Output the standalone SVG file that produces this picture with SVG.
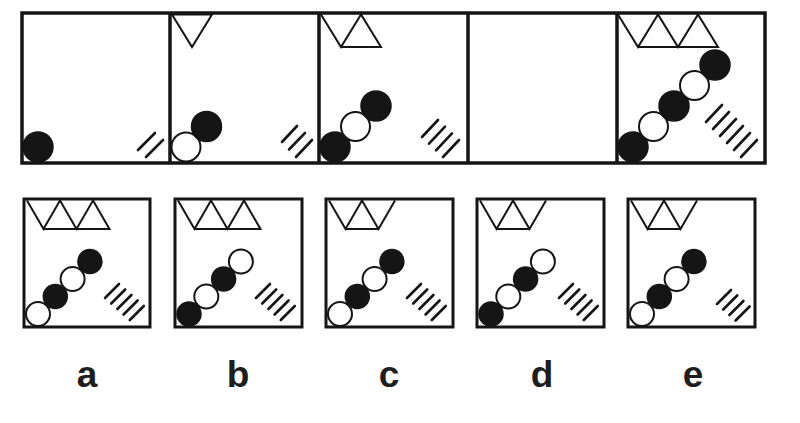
<svg xmlns="http://www.w3.org/2000/svg" width="800" height="423" viewBox="0 0 800 423">
<style>
.frame{fill:none;stroke:#151515;stroke-width:3.5}
.box{fill:none;stroke:#151515;stroke-width:3}
.tri{fill:none;stroke:#151515;stroke-width:2;stroke-linejoin:miter}
.blk{fill:#151515;stroke:#151515;stroke-width:1.5}
.wht{fill:#fff;stroke:#151515;stroke-width:2}
.hash{stroke:#151515;stroke-width:2.6;stroke-linecap:round;fill:none}
.lbl{font-family:"Liberation Sans",Arial,sans-serif;font-weight:bold;font-size:37px;fill:#1e1e1e;text-anchor:middle}
</style>
<rect width="800" height="423" fill="#fff"/>

<g id="top-row">
  <g id="p1">
    <circle class="blk" cx="38" cy="147" r="15"/>
    <path class="hash" d="M138,150 L155,133 M146,157 L163,140"/>
  </g>
  <g id="p2">
    <polygon class="tri" points="172,14.5 212,14.5 192,47"/>
    <circle class="wht" cx="186" cy="147" r="14.5"/>
    <circle class="blk" cx="206.5" cy="126.5" r="15"/>
    <path class="hash" d="M282,142 L297,126 M289,149.5 L305,133 M296,157 L312,140"/>
  </g>
  <g id="p3">
    <polyline class="tri" points="321,14.5 341,47 361,14.5 381,47 341,47"/>
    <circle class="blk" cx="335" cy="147" r="15"/>
    <circle class="wht" cx="355.5" cy="126.5" r="14.5"/>
    <circle class="blk" cx="376" cy="106" r="15"/>
    <path class="hash" d="M422,137 L438,120 M429,143.7 L445,126.7 M436,150.4 L452,133.4 M443,157 L459,140"/>
  </g>
  <g id="p4"></g>
  <g id="p5">
    <polyline class="tri" points="618,14.5 638,47 658,14.5 678,47 698,14.5 718,47 638,47"/>
    <circle class="blk" cx="633" cy="147" r="15"/>
    <circle class="wht" cx="653.5" cy="126.5" r="14.5"/>
    <circle class="blk" cx="674" cy="106" r="15"/>
    <circle class="wht" cx="694.5" cy="85.5" r="14.5"/>
    <circle class="blk" cx="715" cy="65" r="15"/>
    <path class="hash" d="M706,122 L722,105 M713,129 L729,112 M720,136 L736,119 M727,143 L743,126 M734,150 L750,133 M741,157 L757,140"/>
  </g>
  <rect class="frame" x="22" y="13" width="743" height="150"/>
  <path class="frame" d="M170,13 V163 M319,13 V163 M468,13 V163 M617,13 V163"/>
</g>

<g id="opt-a">
  <polyline class="tri" points="27,200.5 43.5,229 60,200.5 76.5,229 93,200.5 109.5,229 43.5,229"/>
  <circle class="wht" cx="38" cy="314" r="12"/>
  <circle class="blk" cx="55.3" cy="296.5" r="12"/>
  <circle class="wht" cx="72.6" cy="279" r="12"/>
  <circle class="blk" cx="89.9" cy="261.5" r="12"/>
  <path class="hash" d="M105,298 l14,-14 M111.2,303.5 l14,-14 M117.4,309 l14,-14 M123.6,314.5 l14,-14 M129.8,320 l14,-14"/>
  <rect class="box" x="24" y="199" width="126" height="128"/>
  <text class="lbl" x="87" y="387">a</text>
</g>

<g id="opt-b">
  <polyline class="tri" points="178,200.5 194.5,229 211,200.5 227.5,229 244,200.5 260.5,229 194.5,229"/>
  <circle class="blk" cx="189" cy="314" r="12"/>
  <circle class="wht" cx="206.3" cy="296.5" r="12"/>
  <circle class="blk" cx="223.6" cy="279" r="12"/>
  <circle class="wht" cx="240.9" cy="261.5" r="12"/>
  <path class="hash" d="M256,298 l14,-14 M262.2,303.5 l14,-14 M268.4,309 l14,-14 M274.6,314.5 l14,-14 M280.8,320 l14,-14"/>
  <rect class="box" x="175" y="199" width="127" height="128"/>
  <text class="lbl" x="238" y="387">b</text>
</g>

<g id="opt-c">
  <polyline class="tri" points="329,200.5 345.5,229 362,200.5 378.5,229 395,200.5"/>
  <line class="tri" x1="345.5" y1="229" x2="378.5" y2="229"/>
  <circle class="wht" cx="340" cy="314" r="12"/>
  <circle class="blk" cx="357.3" cy="296.5" r="12"/>
  <circle class="wht" cx="374.6" cy="279" r="12"/>
  <circle class="blk" cx="391.9" cy="261.5" r="12"/>
  <path class="hash" d="M407,298 l14,-14 M413.2,303.5 l14,-14 M419.4,309 l14,-14 M425.6,314.5 l14,-14 M431.8,320 l14,-14"/>
  <rect class="box" x="326" y="199" width="127" height="128"/>
  <text class="lbl" x="389" y="387">c</text>
</g>

<g id="opt-d">
  <polyline class="tri" points="480,200.5 496.5,229 513,200.5 529.5,229 546,200.5"/>
  <line class="tri" x1="496.5" y1="229" x2="529.5" y2="229"/>
  <circle class="blk" cx="491" cy="314" r="12"/>
  <circle class="wht" cx="508.3" cy="296.5" r="12"/>
  <circle class="blk" cx="525.6" cy="279" r="12"/>
  <circle class="wht" cx="542.9" cy="261.5" r="12"/>
  <path class="hash" d="M559,298 l14,-14 M565.2,303.5 l14,-14 M571.4,309 l14,-14 M577.6,314.5 l14,-14 M583.8,320 l14,-14"/>
  <rect class="box" x="477" y="199" width="127" height="128"/>
  <text class="lbl" x="542" y="387">d</text>
</g>

<g id="opt-e">
  <polyline class="tri" points="631,200.5 647.5,229 664,200.5 680.5,229 697,200.5"/>
  <line class="tri" x1="647.5" y1="229" x2="680.5" y2="229"/>
  <circle class="wht" cx="642" cy="314" r="12"/>
  <circle class="blk" cx="659.3" cy="296.5" r="12"/>
  <circle class="wht" cx="676.6" cy="279" r="12"/>
  <circle class="blk" cx="693.9" cy="261.5" r="12"/>
  <path class="hash" d="M717,304 l14,-14 M723.2,309.5 l14,-14 M729.4,315 l14,-14 M735.6,320.5 l14,-14"/>
  <rect class="box" x="628" y="199" width="127" height="128"/>
  <text class="lbl" x="693" y="387">e</text>
</g>
</svg>
